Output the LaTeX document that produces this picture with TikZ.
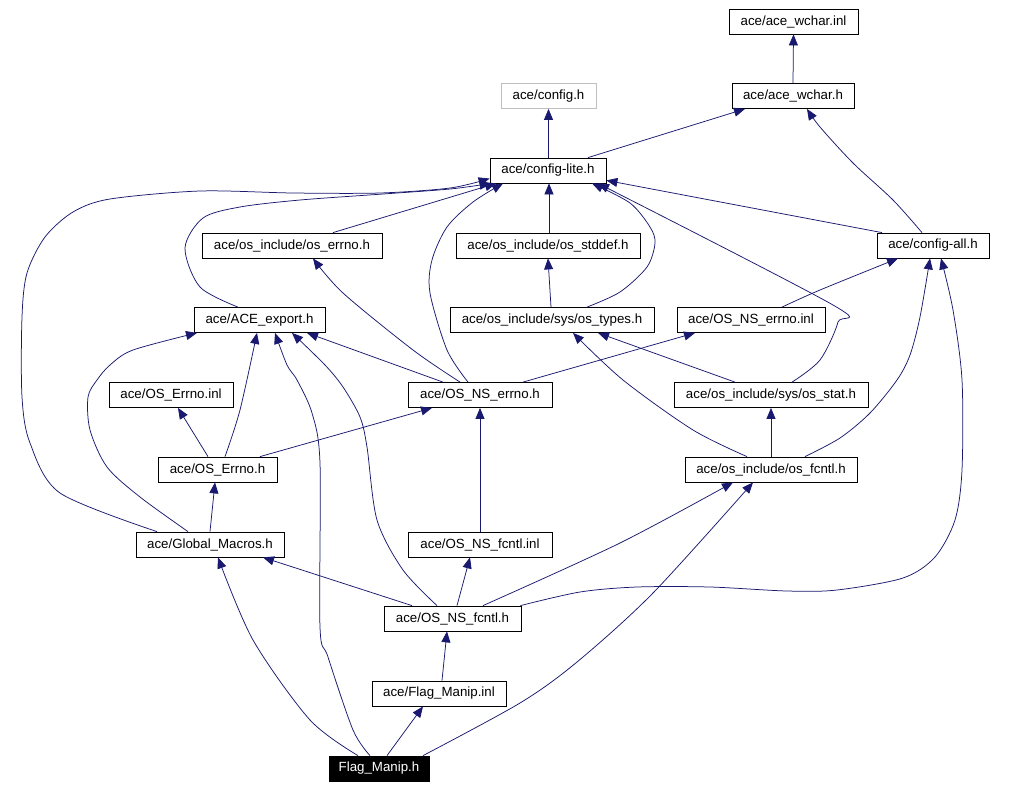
\documentclass[tikz,border=0pt]{standalone}
\usepackage{fontspec}
\setmainfont{Liberation Sans}
\usetikzlibrary{arrows.meta}
\definecolor{edgeblue}{HTML}{191970}
\definecolor{boxgray}{HTML}{BFBFBF}
\tikzset{
  box/.style={draw=black, line width=0.8pt, minimum height=25pt, inner sep=0pt,
              font=\fontsize{13.3}{15}\selectfont, text=black},
  graybox/.style={box, draw=boxgray},
  selbox/.style={box, fill=black, text=white},
  edge/.style={draw=edgeblue, line width=0.75pt,
               -{Triangle[length=11pt,width=9pt]}, fill=none},
}
\begin{document}
\begin{tikzpicture}[x=1pt,y=-1pt]
\useasboundingbox[fill=white] (0,0) rectangle (1034,788);
% nodes
\node[box, minimum width=129pt] (wi) at (793.5,21.5) {ace/ace\_wchar.inl};
\node[box, minimum width=122pt] (wh) at (793,96) {ace/ace\_wchar.h};
\node[graybox, minimum width=95pt] (cfg) at (548.5,96) {ace/config.h};
\node[box, minimum width=116pt] (lite) at (548,170.5) {ace/config-lite.h};
\node[box, minimum width=180pt] (oserr) at (292,245.5) {ace/os\_include/os\_errno.h};
\node[box, minimum width=184pt] (stddef) at (548,245.5) {ace/os\_include/os\_stddef.h};
\node[box, minimum width=112pt] (call) at (933,245.5) {ace/config-all.h};
\node[box, minimum width=131pt] (exp) at (259.5,320) {ace/ACE\_export.h};
\node[box, minimum width=204pt] (types) at (552,320) {ace/os\_include/sys/os\_types.h};
\node[box, minimum width=148pt] (nsinl) at (751,320) {ace/OS\_NS\_errno.inl};
\node[box, minimum width=124pt] (erinl) at (171,395) {ace/OS\_Errno.inl};
\node[box, minimum width=144pt] (nserr) at (480,395) {ace/OS\_NS\_errno.h};
\node[box, minimum width=194pt] (stat) at (771,395) {ace/os\_include/sys/os\_stat.h};
\node[box, minimum width=119pt] (errh) at (217.5,469.5) {ace/OS\_Errno.h};
\node[box, minimum width=172pt] (fcntl) at (771,469.5) {ace/os\_include/os\_fcntl.h};
\node[box, minimum width=148pt] (glob) at (210,544.5) {ace/Global\_Macros.h};
\node[box, minimum width=144pt] (nsfinl) at (480,544.5) {ace/OS\_NS\_fcntl.inl};
\node[box, minimum width=137pt] (nsf) at (452.5,618.5) {ace/OS\_NS\_fcntl.h};
\node[box, minimum width=134pt] (fminl) at (439,693.5) {ace/Flag\_Manip.inl};
\node[selbox, minimum width=100pt] (fm) at (379,768.5) {Flag\_Manip.h};
% edges
\draw[edge] (wh.north) -- (wi.south);
\draw[edge] ([xshift=0.5pt]lite.north) -- (cfg.south);
\draw[edge] ([xshift=40pt]lite.north) -- ([xshift=-48pt]wh.south);
\draw[edge] plot[smooth] coordinates {([xshift=-11pt]call.north) (893,200) (853,163) (820,127) ([xshift=14pt]wh.south)};
\draw[edge] ([xshift=41pt]oserr.north) -- ([xshift=-52pt]lite.south);
\draw[edge] ([xshift=1pt]stddef.north) -- ([xshift=1pt]lite.south);
\draw[edge] ([xshift=-51pt]call.north) -- ([yshift=3pt]lite.south east);
\draw[edge] plot[smooth] coordinates {([xshift=21pt]stat.north) (820,360) (838,322) (833,305) ([xshift=50pt]lite.south)};
\draw[edge] plot[smooth] coordinates {([xshift=35pt]types.north) (620,292) (647,267) (655,243) (650,227) (630,203) ([xshift=44pt]lite.south)};
\draw[edge] plot[smooth] coordinates {([xshift=-21.5pt]exp.north) (200,287) (185,248) (203,218) (240,207) (300,200) (383,194) (450,189) ([xshift=1pt]lite.south west)};
\draw[edge] plot[smooth] coordinates {([xshift=-53pt]glob.north) (60,493) (30,443) (22,397) (22,317) (27,273) (45,237) (73,212) (110,199) (200,191) (293,193) (380,193) (450,188) ([yshift=-8pt]lite.west)};
\draw[edge] plot[smooth] coordinates {([xshift=-12pt]nserr.north) (447,350) (430,293) (432,260) (447,227) (473,202) ([xshift=-45pt]lite.south)};
\draw[edge] ([xshift=-1pt]types.north) -- (stddef.south);
\draw[edge] plot[smooth] coordinates {([xshift=31pt]nsinl.north) (820,290) ([xshift=-35pt]call.south)};
\draw[edge] plot[smooth] coordinates {([xshift=34pt]fcntl.north) (840,438) (870,413) (897,380) (910,355) (920,317) ([xshift=-3pt]call.south)};
\draw[edge] plot[smooth] coordinates {([xshift=-1pt]nsf.north east) (580,592) (637,587) (710,587) (787,591) (837,590) (903,578) (935,557) (955,520) (962,470) (962,380) (953,310) ([xshift=8pt]call.south)};
\draw[edge] plot[smooth] coordinates {([xshift=-20pt]nserr.north) (413,350) (343,293) ([xshift=21pt]oserr.south)};
\draw[edge] ([xshift=-37pt]nserr.north) -- ([xshift=47.5pt]exp.south);
\draw[edge] ([xshift=43pt]nserr.north) -- ([xshift=-56pt]nsinl.south);
\draw[edge] ([xshift=-36pt]stat.north) -- ([xshift=46pt]types.south);
\draw[edge] plot[smooth] coordinates {([xshift=-24pt]fcntl.north) (693,430) (623,380) ([xshift=21pt]types.south)};
\draw[edge] (fcntl.north) -- (stat.south);
\draw[edge] plot[smooth] coordinates {([xshift=-22pt]glob.north) (140,497) (107,467) (90,430) (88,397) (97,380) (110,365) (133,350) ([xshift=-62.5pt]exp.south)};
\draw[edge] plot[smooth] coordinates {([xshift=7.5pt]errh.north) (240,410) ([xshift=-2.5pt]exp.south)};
\draw[edge] plot[smooth] coordinates {([xshift=-9pt]fm.north) (353,730) (328,657) (320,627) (320,463) (312,413) (297,380) (287,365) ([xshift=15.5pt]exp.south)};
\draw[edge] plot[smooth] coordinates {([xshift=-15.5pt]nsf.north) (403,570) (377,520) (367,447) (360,417) (343,387) (325,365) ([xshift=32.5pt]exp.south)};
\draw[edge] ([xshift=-9.5pt]errh.north) -- ([xshift=7pt]erinl.south);
\draw[edge] ([xshift=42.5pt]errh.north) -- ([xshift=-48pt]nserr.south);
\draw[edge] (glob.north) -- ([xshift=-2.5pt]errh.south);
\draw[edge] (nsfinl.north) -- (nserr.south);
\draw[edge] ([xshift=-40.5pt]nsf.north) -- ([xshift=53pt]glob.south);
\draw[edge] plot[smooth] coordinates {([xshift=-21pt]fm.north) (310,720) (253,640) ([xshift=8pt]glob.south)};
\draw[edge] ([xshift=4.5pt]nsf.north) -- ([xshift=-10pt]nsfinl.south);
\draw[edge] plot[smooth] coordinates {([xshift=30.5pt]nsf.north) (620,543) ([xshift=-38pt]fcntl.south)};
\draw[edge] plot[smooth] coordinates {([xshift=44pt]fm.north) (520,703) (577,662) (653,593) ([xshift=-18pt]fcntl.south)};
\draw[edge] ([xshift=3pt]fminl.north) -- ([xshift=-5.5pt]nsf.south);
\draw[edge] ([xshift=8pt]fm.north) -- ([xshift=-16pt]fminl.south);
\end{tikzpicture}
\end{document}
